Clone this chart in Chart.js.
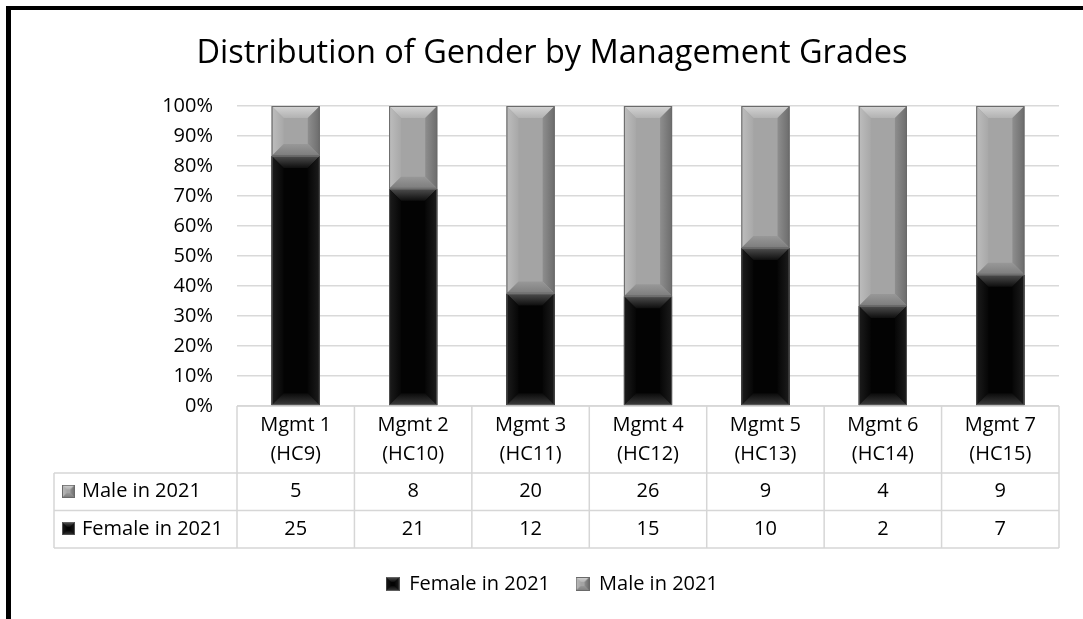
<!DOCTYPE html>
<html>
<head>
<meta charset="utf-8">
<script src="https://cdn.jsdelivr.net/npm/chart.js@4.4.1/dist/chart.umd.min.js"></script>
<style>
  html, body { margin: 0; padding: 0; background: #fff; }
  canvas { display: block; }
</style>
</head>
<body>
<canvas id="gender-canvas" width="1083" height="619"></canvas>
<script>
const categories = [
  ['Mgmt 1', '(HC9)'],
  ['Mgmt 2', '(HC10)'],
  ['Mgmt 3', '(HC11)'],
  ['Mgmt 4', '(HC12)'],
  ['Mgmt 5', '(HC13)'],
  ['Mgmt 6', '(HC14)'],
  ['Mgmt 7', '(HC15)'],
];
const femaleCounts = [25, 21, 12, 15, 10, 2, 7];
const maleCounts = [5, 8, 20, 26, 9, 4, 9];
const seriesNames = ['Female in 2021', 'Male in 2021'];

const FONT = '"Open Sans", Lato, sans-serif';

// share of each grade, as the 100% stacked column needs
const femaleShare = femaleCounts.map((f, i) => (f / (f + maleCounts[i])) * 100);
const maleShare = maleCounts.map((m, i) => (m / (femaleCounts[i] + m)) * 100);

const styles = {
  female: {
    base: '#030303',
    top: ['#4e4e4e', '#0e0e0e'],
    left: ['#1c1c1c', '#060606'],
    right: ['#1c1c1c', '#060606'],
    bottom: ['#3c3c3c', '#0a0a0a'],
    edge: 'rgba(120,120,120,0.6)',
  },
  male: {
    base: '#a4a4a4',
    top: ['#d4d4d4', '#b2b2b2'],
    left: ['#bdbdbd', '#a8a8a8'],
    right: ['#6c6c6c', '#8e8e8e'],
    bottom: ['#7c7c7c', '#989898'],
    edge: '#6a6a6a',
  },
};

function trap(ctx, pts, g0, g1, x0, y0, x1, y1) {
  const g = ctx.createLinearGradient(x0, y0, x1, y1);
  g.addColorStop(0, g0);
  g.addColorStop(1, g1);
  ctx.fillStyle = g;
  ctx.beginPath();
  ctx.moveTo(pts[0][0], pts[0][1]);
  pts.slice(1).forEach(([px, py]) => ctx.lineTo(px, py));
  ctx.closePath();
  ctx.fill();
}

function bevel(ctx, l, t, r, b, st, size) {
  const s = Math.min(size, (b - t) / 2, (r - l) / 2);
  ctx.fillStyle = st.base;
  ctx.fillRect(l, t, r - l, b - t);
  trap(ctx, [[l, t], [r, t], [r - s, t + s], [l + s, t + s]], st.top[0], st.top[1], 0, t, 0, t + s);
  trap(ctx, [[l, t], [l + s, t + s], [l + s, b - s], [l, b]], st.left[0], st.left[1], l, 0, l + s, 0);
  trap(ctx, [[r, t], [r, b], [r - s, b - s], [r - s, t + s]], st.right[0], st.right[1], r, 0, r - s, 0);
  trap(ctx, [[l, b], [l + s, b - s], [r - s, b - s], [r, b]], st.bottom[0], st.bottom[1], 0, b, 0, b - s);
  ctx.strokeStyle = st.edge;
  ctx.lineWidth = 1;
  ctx.strokeRect(l + 0.5, t + 0.5, r - l - 1, b - t - 1);
}

function swatch(st) {
  const c = document.createElement('canvas');
  c.width = 14;
  c.height = 14;
  bevel(c.getContext('2d'), 0, 0, 14, 14, st, 5);
  return c;
}
const swatches = [swatch(styles.female), swatch(styles.male)];

const bevelPlugin = {
  id: 'bevel',
  afterDatasetsDraw(chart) {
    const { ctx } = chart;
    ctx.save();
    chart.data.datasets.forEach((ds, di) => {
      const st = di === 0 ? styles.female : styles.male;
      chart.getDatasetMeta(di).data.forEach((bar) => {
        const { x, y, base, width } = bar.getProps(['x', 'y', 'base', 'width'], true);
        bevel(ctx, x - width / 2, Math.min(y, base), x + width / 2, Math.max(y, base), st, 12);
      });
    });
    ctx.restore();
  },
};

const tablePlugin = {
  id: 'dataTable',
  afterDraw(chart) {
    const { ctx, chartArea: area, scales: { x } } = chart;
    const top = area.bottom;
    const headH = 67;
    const rowH = 37.5;
    const labelLeft = 54;
    const colW = x.getPixelForValue(1) - x.getPixelForValue(0);
    const rows = [
      { name: seriesNames[1], values: maleCounts, sw: swatches[1] },
      { name: seriesNames[0], values: femaleCounts, sw: swatches[0] },
    ];

    ctx.save();
    ctx.strokeStyle = '#d6d6d6';
    ctx.lineWidth = 1.5;
    ctx.beginPath();
    ctx.moveTo(area.left, top);
    ctx.lineTo(area.right, top);
    for (let r = 0; r <= rows.length; r++) {
      const yy = top + headH + r * rowH;
      ctx.moveTo(labelLeft, yy);
      ctx.lineTo(area.right, yy);
    }
    categories.forEach((c, i) => {
      const xx = x.getPixelForValue(i) - colW / 2;
      ctx.moveTo(xx, top);
      ctx.lineTo(xx, top + headH + rows.length * rowH);
    });
    ctx.moveTo(area.right, top);
    ctx.lineTo(area.right, top + headH + rows.length * rowH);
    ctx.moveTo(labelLeft, top + headH);
    ctx.lineTo(labelLeft, top + headH + rows.length * rowH);
    ctx.stroke();

    ctx.fillStyle = '#000';
    ctx.font = `20px ${FONT}`;
    ctx.textAlign = 'center';
    ctx.textBaseline = 'middle';
    categories.forEach((c, i) => {
      const cx = x.getPixelForValue(i);
      ctx.fillText(c[0], cx, top + 19);
      ctx.fillText(c[1], cx, top + 48);
    });
    rows.forEach((row, r) => {
      const cy = top + headH + r * rowH + rowH / 2;
      row.values.forEach((v, i) => ctx.fillText(String(v), x.getPixelForValue(i), cy));
      ctx.drawImage(row.sw, labelLeft + 8, cy - 7, 13, 13);
      ctx.textAlign = 'left';
      ctx.fillText(row.name, labelLeft + 28, cy);
      ctx.textAlign = 'center';
    });
    ctx.restore();
  },
};

const framePlugin = {
  id: 'frame',
  afterDraw(chart) {
    const { ctx, width, height } = chart;
    ctx.save();
    ctx.fillStyle = '#000';
    ctx.fillRect(6, 6, width - 6, 4);
    ctx.fillRect(6, 6, 5, height - 6);
    ctx.restore();
  },
};

new Chart(document.getElementById('gender-canvas').getContext('2d'), {
  type: 'bar',
  data: {
    labels: categories,
    datasets: [
      { label: seriesNames[0], data: femaleShare, backgroundColor: styles.female.base },
      { label: seriesNames[1], data: maleShare, backgroundColor: styles.male.base },
    ],
  },
  options: {
    responsive: false,
    animation: false,
    layout: { padding: { left: 45, right: 24, top: 20, bottom: 15 } },
    datasets: { bar: { categoryPercentage: 1, barPercentage: 0.41, borderWidth: 0 } },
    scales: {
      x: {
        stacked: true,
        grid: { display: false },
        border: { display: false },
        ticks: { display: false },
        afterFit: (scale) => { scale.height = 142; },
      },
      y: {
        stacked: true,
        min: 0,
        max: 100,
        ticks: {
          stepSize: 10,
          padding: 24,
          color: '#000',
          font: { family: FONT, size: 20 },
          callback: (v) => `${v}%`,
        },
        grid: { color: '#d9d9d9', lineWidth: 1.5, drawTicks: false },
        border: { display: false },
        afterFit: (scale) => { scale.width = 192; },
      },
    },
    plugins: {
      title: {
        display: true,
        text: 'Distribution of Gender by Management Grades',
        color: '#000',
        font: { family: FONT, size: 32.5, weight: 'normal' },
        padding: { top: 14, bottom: 33 },
      },
      legend: {
        position: 'bottom',
        labels: {
          color: '#000',
          font: { family: FONT, size: 20 },
          padding: 26,
          boxWidth: 13,
          boxHeight: 13,
          usePointStyle: true,
          generateLabels: (chart) =>
            Chart.defaults.plugins.legend.labels.generateLabels(chart).map((item, i) => ({
              ...item,
              pointStyle: swatches[i],
            })),
        },
      },
      tooltip: { enabled: false },
    },
  },
  plugins: [bevelPlugin, tablePlugin, framePlugin],
});
</script>
</body>
</html>
